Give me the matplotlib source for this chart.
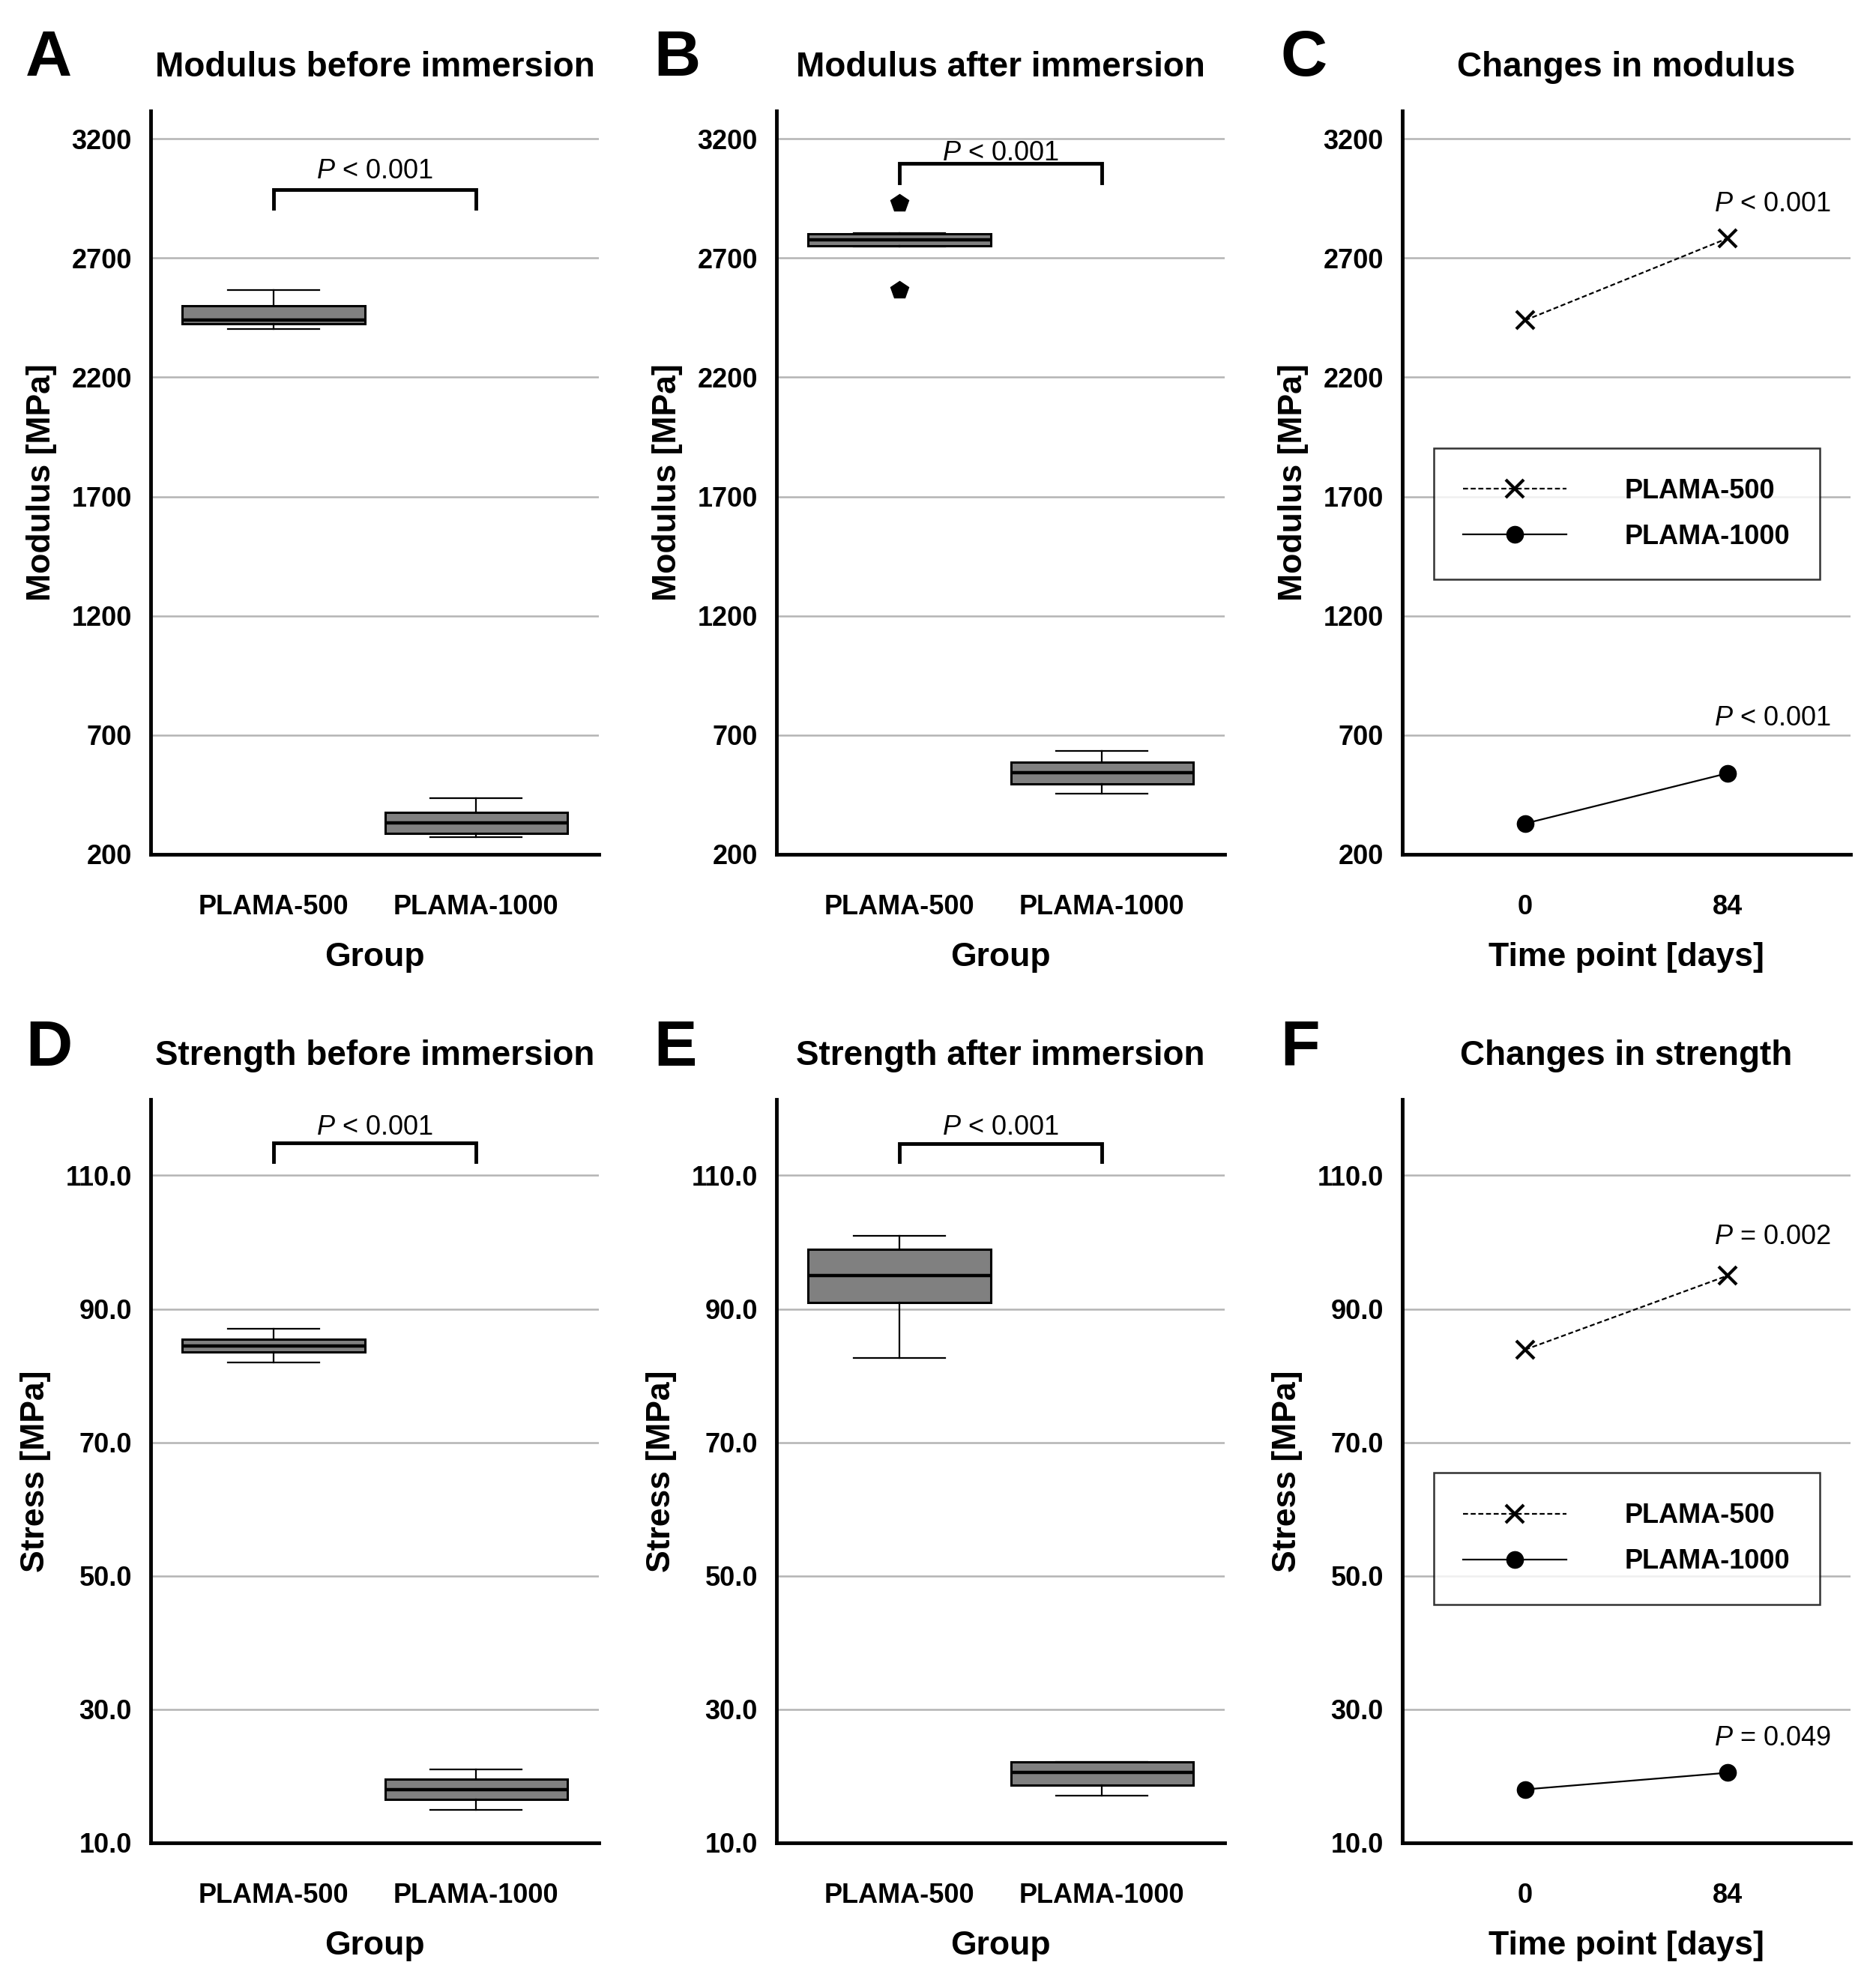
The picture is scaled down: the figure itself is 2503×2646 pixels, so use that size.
import matplotlib
matplotlib.use('Agg')
from matplotlib import pyplot as plt

plt.rcParams['font.family'] = ['Liberation Sans', 'DejaVu Sans']
plt.rcParams['mathtext.fontset'] = 'custom'
plt.rcParams['mathtext.rm'] = 'Liberation Sans'
plt.rcParams['mathtext.it'] = 'Liberation Sans:italic'

groups = ['PLAMA-500', 'PLAMA-1000']
days = ['0', '84']

# box stats: q1, median, q3, lower whisker, upper whisker
mod_before_q1 = [2423, 287]
mod_before_med = [2440, 332]
mod_before_q3 = [2500, 377]
mod_before_lo = [2402, 271]
mod_before_hi = [2566, 435]
mod_before_fliers = [[], []]

mod_after_q1 = [2751, 496]
mod_after_med = [2777, 541]
mod_after_q3 = [2801, 586]
mod_after_lo = [2748, 454]
mod_after_hi = [2806, 634]
mod_after_fliers = [[2930, 2567], []]

str_before_q1 = [83.5, 16.5]
str_before_med = [84.5, 18.0]
str_before_q3 = [85.5, 19.5]
str_before_lo = [82.0, 14.9]
str_before_hi = [87.0, 21.0]
str_before_fliers = [[], []]

str_after_q1 = [91.0, 18.6]
str_after_med = [95.0, 20.6]
str_after_q3 = [98.9, 22.1]
str_after_lo = [82.7, 17.1]
str_after_hi = [100.9, 22.1]
str_after_fliers = [[], []]

# means over time (day 0, day 84)
mod_500 = [2439, 2783]
mod_1000 = [329, 540]
str_500 = [83.9, 95.0]
str_1000 = [18.0, 20.5]

mod_ticks = [200, 700, 1200, 1700, 2200, 2700, 3200]
str_ticks = [10.0, 30.0, 50.0, 70.0, 90.0, 110.0]

fig = plt.figure(figsize=(25.03, 26.46), dpi=100)

lefts = [0.0803, 0.4139, 0.7475]
width = 0.2390
row_bottoms = [0.5692, 0.0707]
height = 0.3749

TICK_FS = 26
LABEL_FS = 32
TITLE_FS = 33
P_FS = 26


def style_axis(ax, ylim, yticks, fmt, ylabel, xlabel, xticklabels, title):
    ax.set_xlim(1 - 0.606, 2 + 0.606)
    ax.set_ylim(*ylim)
    ax.set_yticks(yticks)
    ax.set_yticklabels([fmt.format(t) for t in yticks], fontsize=TICK_FS, fontweight='bold')
    ax.set_xticks([1, 2])
    ax.set_xticklabels(xticklabels, fontsize=TICK_FS, fontweight='bold')
    ax.tick_params(axis='both', length=0)
    ax.tick_params(axis='y', pad=18)
    ax.tick_params(axis='x', pad=38)
    for side in ['top', 'right']:
        ax.spines[side].set_visible(False)
    for side in ['left', 'bottom']:
        ax.spines[side].set_linewidth(3.5)
        ax.spines[side].set_color('black')
    ax.grid(axis='y', color='#b4b4b4', linewidth=1.8)
    ax.set_axisbelow(True)
    ax.set_ylabel(ylabel, fontsize=LABEL_FS, fontweight='bold', labelpad=14)
    ax.set_xlabel(xlabel, fontsize=LABEL_FS, fontweight='bold', labelpad=21)
    ax.set_title(title, fontsize=TITLE_FS, fontweight='bold', pad=33)


def draw_box(ax, q1, med, q3, lo, hi, fliers):
    stats = []
    for i in range(2):
        stats.append(dict(q1=q1[i], med=med[i], q3=q3[i], whislo=lo[i], whishi=hi[i], fliers=fliers[i]))
    ax.bxp(stats, positions=[1, 2], widths=0.9, capwidths=0.45, patch_artist=True,
           boxprops=dict(facecolor='#808080', edgecolor='black', linewidth=2.2),
           medianprops=dict(color='black', linewidth=3.2),
           whiskerprops=dict(color='black', linewidth=1.6),
           capprops=dict(color='black', linewidth=1.6),
           flierprops=dict(marker='p', markersize=18, markerfacecolor='black', markeredgecolor='black'))


def bracket(ax, y_top, y_bot, y_text):
    ax.plot([1, 1, 2, 2], [y_bot, y_top, y_top, y_bot], color='black', linewidth=3.5,
            solid_joinstyle='miter', clip_on=False)
    ax.text(1.5, y_text, r'$\mathit{P}$ < 0.001', fontsize=P_FS, ha='center', va='center')


def draw_lines(ax, v500, v1000, p500, p1000, ytext500, ytext1000, legend_y):
    ax.plot([1, 2], v500, linestyle=(0, (3, 1.6)), color='black', linewidth=1.6,
            marker='x', markersize=17, markeredgewidth=3, label='PLAMA-500')
    ax.plot([1, 2], v1000, linestyle='-', color='black', linewidth=1.6,
            marker='o', markersize=16, label='PLAMA-1000')
    ax.text(2.22, ytext500, p500, fontsize=P_FS, ha='center', va='center')
    ax.text(2.22, ytext1000, p1000, fontsize=P_FS, ha='center', va='center')
    leg = ax.legend(loc='center', bbox_to_anchor=(0.5, legend_y), frameon=True, fancybox=False,
                    prop=dict(size=TICK_FS, weight='bold'), handlelength=3.8, handletextpad=2.15,
                    borderpad=1.1, labelspacing=0.72, borderaxespad=0)
    leg.get_frame().set_edgecolor('black')
    leg.get_frame().set_linewidth(1.8)


panels = []
for r in range(2):
    for c in range(3):
        panels.append(fig.add_axes([lefts[c], row_bottoms[r], width, height]))
axA, axB, axC, axD, axE, axF = panels

mod_lim = (200, 3317)
str_lim = (10, 121.4)

draw_box(axA, mod_before_q1, mod_before_med, mod_before_q3, mod_before_lo, mod_before_hi, mod_before_fliers)
bracket(axA, 2988, 2908, 3065)
style_axis(axA, mod_lim, mod_ticks, '{:d}', 'Modulus [MPa]', 'Group', groups, 'Modulus before immersion')

draw_box(axB, mod_after_q1, mod_after_med, mod_after_q3, mod_after_lo, mod_after_hi, mod_after_fliers)
bracket(axB, 3098, 3014, 3140)
style_axis(axB, mod_lim, mod_ticks, '{:d}', 'Modulus [MPa]', 'Group', groups, 'Modulus after immersion')

draw_lines(axC, mod_500, mod_1000, r'$\mathit{P}$ < 0.001', r'$\mathit{P}$ < 0.001', 2924, 770, 0.458)
style_axis(axC, mod_lim, mod_ticks, '{:d}', 'Modulus [MPa]', 'Time point [days]', days, 'Changes in modulus')

draw_box(axD, str_before_q1, str_before_med, str_before_q3, str_before_lo, str_before_hi, str_before_fliers)
bracket(axD, 114.9, 112.1, 117.2)
style_axis(axD, str_lim, str_ticks, '{:.1f}', 'Stress [MPa]', 'Group', groups, 'Strength before immersion')

draw_box(axE, str_after_q1, str_after_med, str_after_q3, str_after_lo, str_after_hi, str_after_fliers)
bracket(axE, 114.8, 112.1, 117.2)
style_axis(axE, str_lim, str_ticks, '{:.1f}', 'Stress [MPa]', 'Group', groups, 'Strength after immersion')

draw_lines(axF, str_500, str_1000, r'$\mathit{P}$ = 0.002', r'$\mathit{P}$ = 0.049', 100.8, 25.7, 0.409)
style_axis(axF, str_lim, str_ticks, '{:.1f}', 'Stress [MPa]', 'Time point [days]', days, 'Changes in strength')

letters = ['A', 'B', 'C', 'D', 'E', 'F']
letter_x = [0.0135, 0.3485, 0.6825]
letter_y = [0.9618, 0.4626]
for i, letter in enumerate(letters):
    fig.text(letter_x[i % 3], letter_y[i // 3], letter, fontsize=62, fontweight='bold',
             ha='left', va='baseline')

fig.savefig('out.png', dpi=100, facecolor='white')
